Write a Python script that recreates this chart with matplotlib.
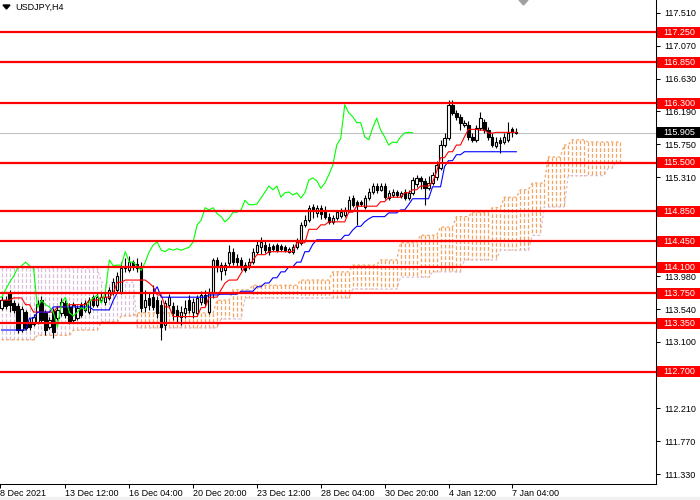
import numpy as np
import matplotlib
matplotlib.use("Agg")
import matplotlib.pyplot as plt
import matplotlib.transforms as mtransforms
from matplotlib.patches import Rectangle, Polygon

plt.rcParams['font.family'] = ['Liberation Sans', 'DejaVu Sans']

# H4 bars: bar 0 = 13 Dec 12:00, one bar = 4 hours
first_bar = -16

opens = [113.56, 113.66, 113.76, 113.62, 113.58, 113.26, 113.50, 113.37, 113.34, 113.37,
         113.66, 113.49, 113.30, 113.52, 113.42, 113.49, 113.62, 113.57, 113.39, 113.42,
         113.60, 113.53, 113.50, 113.70, 113.60, 113.66, 113.64, 113.69, 113.77, 113.80,
         113.77, 114.09, 114.06, 114.17, 114.15, 114.12, 113.57, 113.69, 113.70, 113.66,
         113.60, 113.33, 113.60, 113.58, 113.53, 113.44, 113.49, 113.66, 113.50, 113.49,
         113.64, 113.73, 113.50, 113.76, 114.20, 114.05, 114.06, 114.16, 114.31, 114.23,
         114.20, 114.13, 114.11, 114.17, 114.31, 114.37, 114.40, 114.37, 114.39, 114.40,
         114.39, 114.37, 114.31, 114.31, 114.37, 114.43, 114.67, 114.73, 114.91, 114.83,
         114.90, 114.87, 114.78, 114.71, 114.76, 114.79, 114.80, 114.87, 115.03, 114.98,
         114.98, 114.91, 115.03, 115.11, 115.19, 115.14, 115.19, 115.03, 115.07, 115.11,
         115.06, 115.11, 115.03, 115.10, 115.22, 115.30, 115.26, 115.16, 115.23, 115.31,
         115.43, 115.74, 115.83, 116.28, 116.17, 116.12, 116.01, 116.01, 115.85, 115.81,
         115.97, 116.05, 115.94, 115.85, 115.73, 115.81, 115.78, 115.81, 115.95, 115.91]
highs = [113.72, 113.72, 113.80, 113.66, 113.62, 113.58, 113.53, 113.42, 113.48, 113.66,
         113.72, 113.53, 113.44, 113.56, 113.58, 113.69, 113.66, 113.62, 113.64, 113.60,
         113.64, 113.66, 113.70, 113.73, 113.76, 113.77, 113.76, 113.84, 113.96, 114.04,
         114.17, 114.23, 114.25, 114.20, 114.23, 114.17, 113.80, 113.76, 113.86, 113.72,
         113.66, 113.66, 113.74, 113.64, 113.60, 113.58, 113.66, 113.73, 113.69, 113.73,
         113.78, 113.80, 113.82, 114.23, 114.24, 114.17, 114.17, 114.40, 114.36, 114.28,
         114.24, 114.17, 114.23, 114.36, 114.47, 114.51, 114.47, 114.43, 114.41, 114.43,
         114.41, 114.40, 114.37, 114.41, 114.49, 114.71, 114.80, 114.94, 114.95, 114.94,
         114.94, 114.92, 114.83, 114.80, 114.87, 114.90, 114.91, 115.06, 115.07, 115.00,
         115.00, 115.07, 115.16, 115.23, 115.23, 115.23, 115.23, 115.14, 115.15, 115.14,
         115.12, 115.15, 115.14, 115.31, 115.34, 115.33, 115.30, 115.33, 115.38, 115.53,
         115.81, 115.90, 116.34, 116.34, 116.21, 116.16, 116.08, 116.06, 115.90, 116.01,
         116.18, 116.09, 115.98, 115.90, 115.85, 115.85, 115.90, 116.05, 115.98, 115.97]
lows = [113.53, 113.54, 113.50, 113.49, 113.22, 113.23, 113.26, 113.26, 113.31, 113.34,
        113.35, 113.19, 113.27, 113.15, 113.39, 113.45, 113.42, 113.34, 113.37, 113.39,
        113.44, 113.50, 113.48, 113.57, 113.57, 113.64, 113.60, 113.66, 113.73, 113.77,
        113.74, 114.04, 114.04, 114.06, 114.04, 113.50, 113.50, 113.53, 113.53, 113.42,
        113.13, 113.26, 113.56, 113.39, 113.37, 113.33, 113.42, 113.49, 113.42, 113.46,
        113.60, 113.58, 113.48, 113.69, 114.04, 113.93, 114.00, 114.12, 114.13, 114.12,
        114.06, 114.04, 114.08, 114.15, 114.28, 114.28, 114.29, 114.27, 114.32, 114.31,
        114.32, 114.31, 114.29, 114.28, 114.35, 114.40, 114.64, 114.71, 114.76, 114.78,
        114.75, 114.75, 114.68, 114.68, 114.73, 114.76, 114.78, 114.84, 114.91, 114.67,
        114.92, 114.88, 115.00, 115.08, 115.10, 115.12, 115.02, 115.00, 115.04, 115.04,
        115.03, 115.00, 115.00, 115.07, 115.18, 115.15, 114.94, 115.14, 115.20, 115.27,
        115.41, 115.71, 115.81, 116.14, 116.08, 115.94, 115.98, 115.81, 115.78, 115.78,
        115.94, 115.90, 115.81, 115.71, 115.70, 115.63, 115.75, 115.78, 115.85, 115.89]
closes = [113.66, 113.58, 113.60, 113.53, 113.26, 113.54, 113.29, 113.30, 113.44, 113.61,
          113.39, 113.26, 113.39, 113.23, 113.53, 113.64, 113.46, 113.37, 113.60, 113.56,
          113.46, 113.62, 113.66, 113.60, 113.70, 113.70, 113.70, 113.80, 113.90, 113.98,
          114.09, 114.12, 114.17, 114.12, 114.09, 113.56, 113.66, 113.60, 113.57, 113.49,
          113.30, 113.62, 113.70, 113.49, 113.45, 113.50, 113.56, 113.53, 113.64, 113.69,
          113.73, 113.62, 113.77, 114.20, 114.12, 114.13, 114.13, 114.31, 114.17, 114.17,
          114.11, 114.06, 114.17, 114.31, 114.40, 114.44, 114.33, 114.31, 114.35, 114.33,
          114.35, 114.33, 114.35, 114.37, 114.44, 114.67, 114.73, 114.90, 114.87, 114.90,
          114.82, 114.78, 114.71, 114.76, 114.84, 114.84, 114.87, 115.00, 114.94, 114.94,
          114.95, 115.03, 115.11, 115.19, 115.14, 115.19, 115.04, 115.10, 115.11, 115.07,
          115.10, 115.03, 115.10, 115.27, 115.30, 115.26, 115.16, 115.23, 115.34, 115.47,
          115.74, 115.83, 116.28, 116.17, 116.12, 116.04, 116.04, 115.85, 115.81, 115.97,
          116.10, 115.94, 115.85, 115.74, 115.78, 115.77, 115.85, 115.90, 115.91, 115.905]

# Ichimoku lines as step values (bar where a value starts, value)
tenkan_from = [-16, -13, -10, -8, -2, 1, 6, 9, 12, 13, 15, 21, 22, 23, 25, 27, 34, 36, 39, 40,
               41, 44, 45, 47, 48, 51, 58, 61, 64, 66, 71, 73, 79, 81, 85, 87, 89, 92, 93, 94,
               96, 98, 100, 101, 104, 106, 108]
tenkan_val = [113.66, 113.69, 113.60, 113.50, 113.57, 113.60, 113.66, 113.70, 113.76, 113.90,
              113.93, 113.89, 113.84, 113.73, 113.57, 113.44, 113.56, 113.70, 113.80, 113.89,
              113.93, 114.02, 114.11, 114.20, 114.27, 114.31, 114.43, 114.61, 114.67, 114.71,
              114.84, 114.92, 114.98, 115.04, 115.10, 115.14, 115.19, 115.24, 115.38, 115.57,
              115.65, 115.74, 115.85, 115.95, 115.94, 115.90, 115.91]
kijun_from = [-16, -9, -7, -3, 7, 12, 13, 23, 24, 36, 39, 44, 48, 50, 52, 54, 56, 58, 60, 62,
              63, 70, 72, 73, 75, 76, 77, 81, 84, 86, 87, 92, 95, 96, 98, 100]
kijun_val = [113.26, 113.42, 113.50, 113.57, 113.53, 113.66, 113.76, 113.84, 113.70, 113.73,
             113.74, 113.78, 113.84, 113.89, 113.96, 114.04, 114.11, 114.17, 114.31, 114.41,
             114.47, 114.53, 114.60, 114.65, 114.71, 114.75, 114.78, 114.83, 114.87, 114.94,
             115.02, 115.18, 115.45, 115.53, 115.61, 115.65]
span_a_from = [-16, -7, 2, 9, 14, 18, 38, 42, 47, 59, 67, 72, 79, 84, 89, 94, 98, 102, 107, 110,
               114, 117, 121, 125, 127, 131]
span_a_val = [113.13, 113.19, 113.26, 113.37, 113.45, 113.49, 113.66, 113.80, 113.86, 113.93,
              114.04, 114.13, 114.20, 114.43, 114.53, 114.64, 114.78, 114.84, 114.90, 115.04,
              115.14, 115.23, 115.58, 115.74, 115.81, 115.78]
span_b_from = [-16, 9, 18, 39, 45, 72, 84, 92, 100, 109, 117, 120, 126, 136, 138]
span_b_val = [114.09, 113.90, 113.29, 113.41, 113.69, 113.81, 113.97, 114.04, 114.20, 114.33,
              114.53, 114.91, 115.33, 115.43, 115.51]
cloud_last_bar = 139

levels = [117.25, 116.85, 116.30, 115.50, 114.85, 114.45, 114.10, 113.75, 113.35, 112.70]
last_price = 115.905

price_ticks = [117.51, 117.07, 116.63, 116.19, 115.75, 115.31, 114.87, 114.42, 113.98,
               113.54, 113.10, 112.66, 112.21, 111.77, 111.33]
hidden_ticks = [114.87, 114.42, 112.66]   # covered by the level labels
time_ticks = [-16.4, 0, 16, 32, 48, 64, 80, 96, 112]
time_labels = ['8 Dec 2021', '13 Dec 12:00', '16 Dec 04:00', '20 Dec 20:00', '23 Dec 12:00',
               '28 Dec 04:00', '30 Dec 20:00', '4 Jan 12:00', '7 Jan 04:00']


def step_series(starts, values, last_bar):
    # one value per bar from the step table
    bars = np.arange(starts[0], last_bar + 1)
    idx = np.searchsorted(starts, bars, side='right') - 1
    return bars, np.asarray(values)[idx]


def main():
    fig = plt.figure(figsize=(7, 5), dpi=100)
    ax = fig.add_axes([0, 16 / 500, 656 / 700, 484 / 500])
    ax.set_xlim(-16, 148)
    ax.set_ylim(111.196, 117.684)

    # cloud
    cb, span_a = step_series(span_a_from, span_a_val, cloud_last_bar)
    _, span_b = step_series(span_b_from, span_b_val, cloud_last_bar)
    cols = np.where(span_a >= span_b, '#F4A460', '#D8BFD8')
    ax.vlines(cb, span_a, span_b, colors=cols, linestyles=[(0, (3, 1.6))], linewidth=0.9, zorder=1)
    ax.plot(cb, span_a, color='#F4A460', lw=0.9, ls=(0, (2, 2)), zorder=1)
    ax.plot(cb, span_b, color='#D8BFD8', lw=0.9, ls=(0, (2, 2)), zorder=1)

    ax.axhline(last_price, color='#C0C0C0', lw=0.75, zorder=0.8)

    # candles
    o = np.array(opens)
    h = np.array(highs)
    l = np.array(lows)
    c = np.array(closes)
    bars = np.arange(first_bar, first_bar + len(c))
    ax.vlines(bars, l, h, colors='black', linewidth=0.8, zorder=3)
    up = c >= o
    body_low = np.minimum(o, c)
    body_h = np.maximum(np.abs(c - o), 0.012)
    ax.bar(bars, body_h, bottom=body_low, width=0.55,
           color=np.where(up, 'white', 'black'), edgecolor='black', linewidth=0.8, zorder=4)

    # tenkan, kijun, chikou
    tb, tenkan = step_series(tenkan_from, tenkan_val, bars[-1])
    kb, kijun = step_series(kijun_from, kijun_val, bars[-1])
    ax.plot(tb, tenkan, color='red', lw=0.8, zorder=5)
    ax.plot(kb, kijun, color='blue', lw=0.8, zorder=5)
    ax.plot(bars - 26, c, color='#00FF00', lw=0.8, zorder=5)

    for lv in levels:
        ax.axhline(lv, color='red', lw=1.6, zorder=6)

    # axes
    for s in ['top', 'left']:
        ax.spines[s].set_visible(False)
    for s in ['right', 'bottom']:
        ax.spines[s].set_linewidth(0.75)
    ax.yaxis.tick_right()
    ax.set_yticks(price_ticks, ['' if v in hidden_ticks else f'{v:.3f}' for v in price_ticks])
    ax.set_xticks(time_ticks, time_labels)
    for lab in ax.get_xticklabels():
        lab.set_ha('left')
    ax.tick_params(axis='y', direction='out', length=3, width=0.75, pad=3, labelsize=6.5)
    ax.tick_params(axis='x', direction='out', length=3, width=0.75, pad=0.5, labelsize=6.5)

    # price labels on the right
    trans = mtransforms.blended_transform_factory(ax.transAxes, ax.transData)
    box_h = 11 * (117.684 - 111.196) / 484
    for lv, face in [(v, 'red') for v in levels] + [(last_price, 'black')]:
        ax.add_patch(Rectangle((657 / 656, lv - box_h / 2), 43 / 656, box_h, transform=trans,
                               facecolor=face, edgecolor='none', clip_on=False, zorder=10))
        ax.text(663 / 656, lv, f'{lv:.3f}', transform=trans, color='white', fontsize=6.5,
                va='center', ha='left', clip_on=False, zorder=11)

    # title and chart markers
    fig.text(15 / 700, 1 - 7 / 500, 'USDJPY,H4', fontsize=6.5, va='center', ha='left')
    fig.patches.append(Polygon([(3 / 700, 1 - 5 / 500), (10 / 700, 1 - 5 / 500), (6.5 / 700, 1 - 9 / 500)],
                               closed=True, color='black', transform=fig.transFigure))
    fig.patches.append(Polygon([(519 / 700, 1.0), (528 / 700, 1.0), (523.5 / 700, 1 - 5 / 500)],
                               closed=True, color='#A0A0A0', transform=fig.transFigure))
    fig.patches.append(Rectangle((0, 0), 1, 3 / 500, color='#F0F0F0', transform=fig.transFigure))

    fig.savefig('out.png', dpi=100)


if __name__ == "__main__":
    main()
